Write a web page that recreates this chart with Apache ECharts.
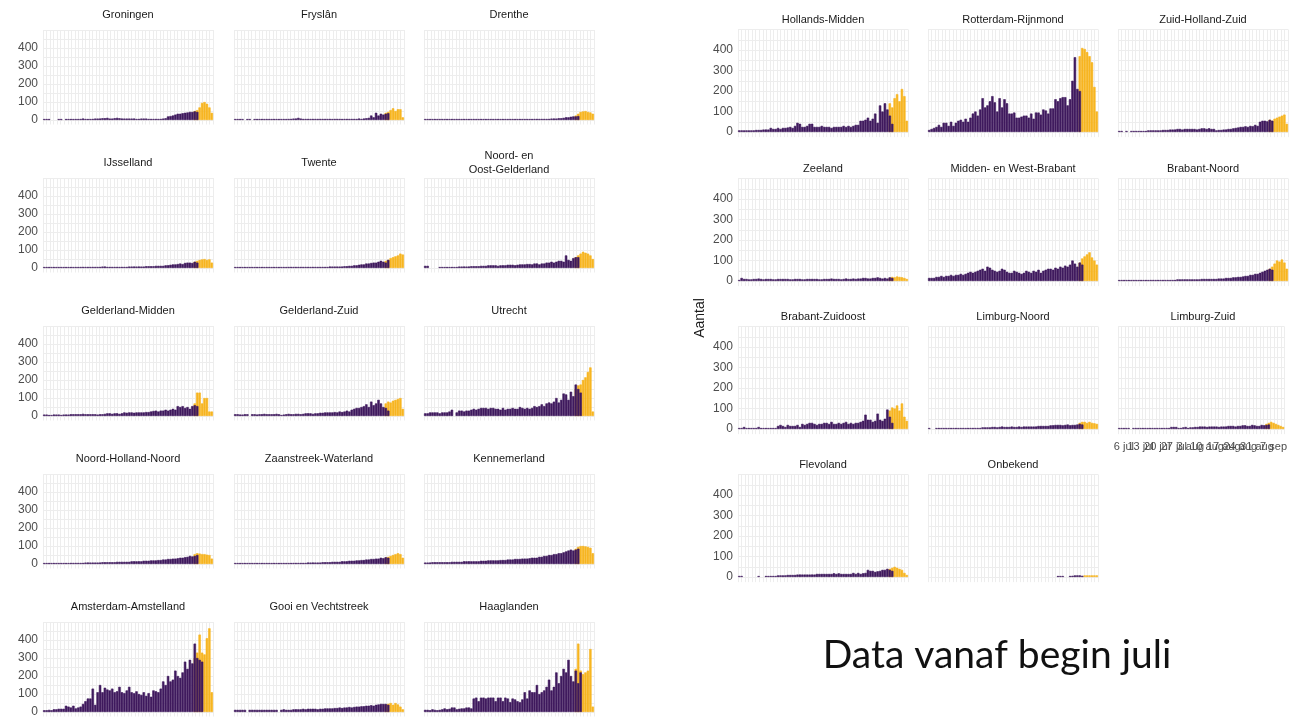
<!DOCTYPE html>
<html><head><meta charset="utf-8">
<script src="https://cdn.jsdelivr.net/npm/echarts@6/dist/echarts.min.js"></script>
<style>html,body{margin:0;padding:0;background:#fff}#c{width:1290px;height:718px}</style>
</head><body><div id="c"></div>
<script>
// ---- data: purple = daily counts (index 0..65), yellow = recent days (index 62..69) ----
const N_DAYS = 70;
const YELLOW_START = 62;
const X_TICK_LABELS = ['6 jul','13 jul','20 jul','27 jul','3 aug','10 aug','17 aug','24 aug','31 aug','7 sep'];
const X_TICK_FIRST = 2, X_TICK_STEP = 7;

const P_GRONINGEN = [3,3,3,0,0,0,3,3,0,4, 4,4,5,5,5,6,8,6,5,5, 6,8,8,8,10,10,12,8,8,10, 12,10,8,8,8,8,8,8,6,6, 8,8,8,6,6,6,6,6,6,8, 10,20,22,25,30,35,35,38,40,42, 45,45,48,45,0,0];
const Y_GRONINGEN = [50,55,70,95,100,90,70,40];
const P_FRYSLAN = [3,3,3,3,0,3,3,0,3,3, 3,3,3,4,4,3,3,4,4,4, 5,5,6,6,8,8,12,8,6,6, 6,6,6,6,6,6,6,6,6,6, 3,6,6,6,4,6,6,6,6,6, 6,8,6,8,10,12,25,15,40,25, 35,30,35,38,0,0];
const Y_FRYSLAN = [40,45,55,65,50,60,60,15];
const P_DRENTHE = [2,2,2,2,2,2,2,2,2,2, 2,2,2,3,3,3,3,3,3,3, 3,3,3,3,4,4,4,4,4,4, 4,4,4,4,4,4,4,4,5,5, 5,5,5,5,5,6,6,6,6,6, 6,6,8,8,8,10,10,12,15,15, 18,20,20,22,0,0];
const Y_DRENTHE = [25,35,45,48,50,45,42,35];
const P_IJSSELLAND = [5,5,5,5,5,5,5,5,5,5, 5,5,5,5,5,6,6,6,6,6, 6,6,6,6,8,8,6,6,6,6, 6,6,6,6,6,8,8,8,8,8, 8,8,10,10,10,10,12,12,12,12, 15,15,18,20,20,22,25,22,28,30, 30,28,35,30,0,0];
const Y_IJSSELLAND = [35,40,45,48,50,45,48,30];
const P_TWENTE = [5,5,5,5,5,5,5,5,5,5, 5,5,5,5,5,5,5,5,5,5, 5,5,6,6,6,6,6,6,6,6, 6,6,6,6,6,6,6,6,6,8, 8,8,8,8,8,10,10,12,12,15, 15,18,20,20,25,25,28,30,30,35, 40,35,30,45,0,0];
const Y_TWENTE = [40,45,55,60,65,70,80,75];
const P_NOG = [12,12,0,0,0,0,5,5,5,5, 5,5,5,5,8,8,8,8,8,10, 10,10,10,12,12,12,15,15,15,15, 12,15,15,15,18,18,18,15,18,20, 20,20,22,22,20,25,25,20,25,25, 30,30,35,30,35,40,40,35,70,45, 40,55,60,60,0,0];
const Y_NOG = [60,70,80,90,85,80,70,50];
const P_GMIDDEN = [8,8,5,5,8,8,8,5,8,8, 8,10,10,10,10,10,12,10,10,10, 10,10,8,10,10,12,15,15,12,15, 15,12,15,20,18,20,20,18,20,20, 20,20,22,22,25,28,30,25,30,30, 35,30,35,40,35,55,50,55,45,50, 40,55,60,55,0,0];
const Y_GMIDDEN = [70,130,130,70,100,100,25,25];
const P_GZUID = [10,10,8,8,10,10,0,10,10,8, 10,10,12,10,10,10,10,12,10,5, 8,10,12,10,10,12,12,10,12,15, 15,15,12,15,15,18,18,20,20,20, 20,22,20,25,22,25,30,25,35,40, 45,45,50,55,65,50,80,60,70,90, 70,50,45,30,0,0];
const Y_GZUID = [70,80,75,85,90,95,100,40];
const P_UTRECHT = [15,15,20,20,20,20,15,20,20,20, 25,35,0,20,30,30,25,30,30,35, 40,35,40,45,45,45,40,45,45,40, 40,35,45,35,40,40,45,40,40,50, 45,40,45,40,45,55,50,55,65,55, 70,75,70,80,100,75,90,125,120,90, 135,110,175,150,130,0];
const Y_UTRECHT = [150,170,175,200,215,245,270,25];
const P_NHN = [5,5,5,5,5,5,5,5,5,5, 5,6,6,6,6,6,6,8,8,8, 8,8,8,8,10,10,10,10,10,10, 12,12,12,12,12,12,15,15,15,15, 15,18,18,18,20,20,20,22,22,25, 25,28,28,30,30,32,35,35,38,40, 45,42,45,50,0,0];
const Y_NHN = [55,60,58,55,55,52,50,30];
const P_ZAANSTREEK = [3,3,3,3,3,3,3,3,3,3, 3,3,3,3,3,5,5,5,5,5, 5,5,5,5,6,6,6,6,6,6, 8,8,8,8,8,8,10,10,10,10, 12,12,12,12,15,15,15,18,18,18, 20,20,22,22,25,25,28,28,30,30, 35,32,38,35,0,0];
const Y_ZAANSTREEK = [35,40,45,50,55,60,55,35];
const P_KENNEMERLAND = [8,8,8,10,10,10,10,10,10,10, 10,12,12,12,12,12,15,15,15,15, 15,15,15,18,18,18,20,20,20,20, 20,22,22,22,25,25,25,28,28,28, 30,30,30,32,35,35,35,40,40,45, 45,50,50,55,55,60,60,65,70,75, 80,75,80,85,0,0];
const Y_KENNEMERLAND = [85,95,100,100,98,95,90,60];
const P_AMSTERDAM = [10,10,12,10,15,15,18,18,18,35, 30,25,35,20,25,30,45,60,75,75, 130,40,110,150,110,135,125,120,130,110, 115,140,110,105,120,140,110,105,115,100, 95,110,90,105,85,120,115,110,130,170, 150,200,170,180,230,200,190,220,280,240, 290,270,380,300,290,280];
const Y_AMSTERDAM = [300,330,430,330,320,410,465,110];
const P_GOOI = [12,12,12,12,12,0,12,12,12,12, 12,12,12,12,12,12,12,12,0,12, 15,12,12,12,15,15,15,15,18,15, 18,18,18,18,15,18,18,20,20,20, 20,22,22,25,22,25,25,28,25,28, 30,30,32,32,35,35,38,35,40,42, 45,45,45,40,0,0];
const Y_GOOI = [40,45,50,40,50,42,30,15];
const P_HAAGLANDEN = [12,12,10,15,12,10,12,15,20,15, 18,25,25,15,18,20,20,25,25,20, 75,80,60,80,80,75,80,80,80,60, 80,80,60,80,75,55,75,70,60,55, 70,110,75,120,110,110,150,100,110,120, 140,180,120,140,220,160,200,240,220,290, 200,170,230,160,220,0];
const Y_HAAGLANDEN = [240,380,230,210,220,230,350,30];
const P_HMIDDEN = [8,8,8,8,8,8,8,10,10,10, 12,12,12,20,15,15,20,15,20,20, 22,25,20,30,45,40,25,25,30,40, 40,25,25,25,30,25,25,25,20,25, 25,25,25,30,25,30,25,30,35,35, 55,55,60,70,55,65,90,45,130,100, 140,110,80,40,0,0];
const Y_HMIDDEN = [140,120,165,185,150,210,175,55];
const P_ROTTERDAM = [10,15,20,25,35,25,45,45,30,50, 30,45,55,60,50,65,50,70,90,100, 80,110,165,120,130,150,175,145,100,165, 120,160,140,90,90,95,70,70,75,80, 80,70,90,65,95,95,85,110,105,90, 115,115,160,150,165,170,170,130,160,250, 365,210,200,0,0,0];
const Y_ROTTERDAM = [370,410,405,390,370,340,220,100];
const P_ZHZ = [5,5,0,5,0,5,5,5,5,5, 5,5,8,8,8,8,8,8,10,10, 10,12,12,12,15,15,12,15,15,15, 15,15,12,15,18,18,15,18,15,15, 8,10,10,12,12,15,15,18,20,22, 25,25,28,25,30,28,35,30,50,55, 55,52,60,55,0,0];
const Y_ZHZ = [60,55,65,70,75,80,85,40];
const P_ZEELAND = [5,15,10,10,8,8,10,10,12,10, 8,10,10,10,8,8,10,10,10,10, 10,8,8,10,10,10,8,8,10,10, 10,10,10,8,8,10,10,10,12,10, 10,10,8,10,12,10,10,12,10,12, 12,15,15,12,12,15,15,18,15,12, 15,12,18,15,0,0];
const Y_ZEELAND = [15,20,18,22,20,18,15,10];
const P_MWB = [15,15,15,20,20,25,20,25,25,30, 25,30,30,35,30,35,40,45,40,45, 50,55,60,50,70,65,55,50,45,50, 60,55,45,40,40,50,45,40,35,40, 50,45,40,50,45,55,40,50,55,60, 60,55,65,60,70,65,75,70,80,100, 85,70,90,80,0,0];
const Y_MWB = [90,110,120,130,140,115,100,80];
const P_BNOORD = [3,3,3,3,3,3,3,3,3,3, 3,3,3,5,5,5,5,5,5,5, 5,5,5,5,8,8,8,8,8,8, 8,8,8,8,10,10,10,10,10,10, 10,12,12,12,15,15,15,18,18,20, 20,22,25,25,30,30,35,35,40,45, 50,55,60,55,0,0];
const Y_BNOORD = [60,70,85,100,95,105,90,60];
const P_BZO = [3,3,10,3,3,3,3,3,10,3, 3,3,3,3,3,3,15,20,15,10, 20,15,15,15,20,10,25,20,25,30, 30,25,20,25,25,30,30,25,35,25, 25,30,25,30,35,25,30,25,30,30, 35,40,70,45,45,35,40,75,45,40, 50,95,60,30,0,0];
const Y_BZO = [90,105,100,115,90,125,60,40];
const P_LNOORD = [3,0,0,3,3,3,3,3,3,3, 3,3,3,3,3,3,3,5,5,5, 5,5,8,8,8,8,10,10,8,10, 12,10,10,10,12,10,10,12,10,12, 12,12,12,12,12,15,15,15,15,15, 18,18,20,20,20,18,20,22,18,20, 20,22,25,22,0,0];
const Y_LNOORD = [30,35,35,30,35,30,28,25];
const P_LZUID = [3,3,3,3,3,0,3,3,3,3, 3,3,3,3,3,3,3,3,3,3, 5,5,10,10,10,5,5,8,10,5, 8,8,10,10,12,12,12,10,12,12, 12,12,10,12,12,12,15,15,15,12, 15,15,18,18,15,15,20,18,15,15, 20,18,20,22,0,0];
const Y_LZUID = [25,30,35,30,25,20,15,10];
const P_FLEVOLAND = [5,5,0,0,0,0,0,0,3,0, 0,5,5,5,5,5,8,8,8,8, 10,10,10,10,12,12,12,12,12,12, 12,12,15,15,15,15,15,15,15,18, 15,18,15,15,15,15,15,20,15,20, 15,18,20,35,30,30,25,28,30,35, 35,40,35,30,0,0];
const Y_FLEVOLAND = [40,45,50,45,40,35,20,10];
const P_ONBEKEND = [0,0,0,0,0,0,0,0,0,0, 0,0,0,0,0,0,0,0,0,0, 0,0,0,0,0,0,0,0,0,0, 0,0,0,0,0,0,0,0,0,0, 0,0,0,0,0,0,0,0,0,0, 0,0,0,4,4,4,0,0,5,6, 8,8,8,6,0,0];
const Y_ONBEKEND = [0,0,8,8,8,8,8,8];

// ---- panels (name, data) and layout ----
const LEFT_PANELS = [
  ['Groningen', P_GRONINGEN, Y_GRONINGEN], ['Fryslân', P_FRYSLAN, Y_FRYSLAN], ['Drenthe', P_DRENTHE, Y_DRENTHE],
  ['IJsselland', P_IJSSELLAND, Y_IJSSELLAND], ['Twente', P_TWENTE, Y_TWENTE], ['Noord- en\nOost-Gelderland', P_NOG, Y_NOG],
  ['Gelderland-Midden', P_GMIDDEN, Y_GMIDDEN], ['Gelderland-Zuid', P_GZUID, Y_GZUID], ['Utrecht', P_UTRECHT, Y_UTRECHT],
  ['Noord-Holland-Noord', P_NHN, Y_NHN], ['Zaanstreek-Waterland', P_ZAANSTREEK, Y_ZAANSTREEK], ['Kennemerland', P_KENNEMERLAND, Y_KENNEMERLAND],
  ['Amsterdam-Amstelland', P_AMSTERDAM, Y_AMSTERDAM], ['Gooi en Vechtstreek', P_GOOI, Y_GOOI], ['Haaglanden', P_HAAGLANDEN, Y_HAAGLANDEN]
];
const RIGHT_PANELS = [
  ['Hollands-Midden', P_HMIDDEN, Y_HMIDDEN], ['Rotterdam-Rijnmond', P_ROTTERDAM, Y_ROTTERDAM], ['Zuid-Holland-Zuid', P_ZHZ, Y_ZHZ],
  ['Zeeland', P_ZEELAND, Y_ZEELAND], ['Midden- en West-Brabant', P_MWB, Y_MWB], ['Brabant-Noord', P_BNOORD, Y_BNOORD],
  ['Brabant-Zuidoost', P_BZO, Y_BZO], ['Limburg-Noord', P_LNOORD, Y_LNOORD], ['Limburg-Zuid', P_LZUID, Y_LZUID],
  ['Flevoland', P_FLEVOLAND, Y_FLEVOLAND], ['Onbekend', P_ONBEKEND, Y_ONBEKEND]
];
const X_LABEL_PANEL = 'Limburg-Zuid';

const PURPLE = '#3f1a5e', YELLOW = '#f7b521';
const GRIDC = '#ededed';
const FONT = 'Liberation Sans, Arial, sans-serif';
const BLOCKS = [
  {panels: LEFT_PANELS, lefts: [43, 234, 424], zeros: [120, 268, 416, 564, 712], scale: 0.18, titleOff: 105},
  {panels: RIGHT_PANELS, lefts: [738, 928, 1118], zeros: [132, 281, 429, 577], scale: 0.205, titleOff: 112}
];
const PW = 170, YMIN = -25, YMAX = 500;

const cats = [];
for (let i = 0; i < N_DAYS; i++) cats.push('d' + i);

const grids = [], xAxes = [], yAxes = [], series = [], graphics = [];
let g = 0;
BLOCKS.forEach(b => {
  b.panels.forEach((pn, k) => {
    const col = k % 3, row = Math.floor(k / 3);
    const left = b.lefts[col], zero = b.zeros[row], s = b.scale;
    const top = zero - YMAX * s, height = (YMAX - YMIN) * s;
    grids.push({left: left, top: top, width: PW, height: height, containLabel: false});
    const showX = pn[0] === X_LABEL_PANEL;
    xAxes.push({
      gridIndex: g, type: 'category', data: cats, boundaryGap: true, position: 'bottom',
      axisLine: {show: false}, axisTick: {show: false}, splitLine: {show: false},
      axisLabel: {show: showX, interval: 0, color: '#4d4d4d', fontSize: 11, fontFamily: FONT, margin: 7,
        formatter: (v, i) => ((i - X_TICK_FIRST) % X_TICK_STEP === 0 && i >= X_TICK_FIRST) ? (X_TICK_LABELS[(i - X_TICK_FIRST) / X_TICK_STEP] || '') : ''}
    });
    xAxes.push({
      gridIndex: g, type: 'value', min: 0, max: 48, interval: 1, position: 'top',
      axisLine: {show: false}, axisTick: {show: false}, axisLabel: {show: false},
      splitLine: {show: true, lineStyle: {color: GRIDC, width: 1}}
    });
    yAxes.push({
      gridIndex: g, type: 'value', min: YMIN, max: YMAX, interval: 25,
      axisLine: {show: false}, axisTick: {show: false},
      axisLabel: {show: col === 0, color: '#4d4d4d', fontSize: 12, fontFamily: FONT, margin: 5,
        formatter: v => (v >= 0 && v <= 400 && v % 100 === 0) ? String(v) : ''},
      splitLine: {show: true, lineStyle: {color: ['rgba(0,0,0,0)', GRIDC], width: 1}}
    });
    const pd = [], yd = [];
    for (let i = 0; i < N_DAYS; i++) {
      const pv = pn[1][i];
      pd.push(pv ? pv : null);
      const yv = i >= YELLOW_START ? pn[2][i - YELLOW_START] : null;
      yd.push(yv ? yv : null);
    }
    const common = {type: 'bar', xAxisIndex: 2 * g, yAxisIndex: g, barCategoryGap: '0%', barGap: '-100%',
      barMinHeight: 1, silent: true, animation: false};
    series.push(Object.assign({}, common, {data: yd, itemStyle: {color: YELLOW, borderColor: YELLOW, borderWidth: 0.6}}));
    series.push(Object.assign({}, common, {data: pd, itemStyle: {color: PURPLE, borderColor: PURPLE, borderWidth: 0.6}}));
    graphics.push({type: 'text', x: left + PW / 2, y: zero - b.titleOff,
      style: {text: pn[0], align: 'center', verticalAlign: 'middle', fill: '#1a1a1a', font: '11px ' + FONT, lineHeight: 14}});
    g++;
  });
});

graphics.push({type: 'text', x: 700, y: 318, rotation: Math.PI / 2,
  style: {text: 'Aantal', align: 'center', verticalAlign: 'middle', fill: '#1a1a1a', font: '14px ' + FONT}});
graphics.push({type: 'text', x: 997, y: 655,
  style: {text: 'Data vanaf begin juli', align: 'center', verticalAlign: 'middle', fill: '#111111', font: '39px Lato, "Open Sans", sans-serif'}});

const chart = echarts.init(document.getElementById('c'), null, {renderer: 'canvas'});
chart.setOption({
  backgroundColor: '#ffffff',
  animation: false,
  grid: grids, xAxis: xAxes, yAxis: yAxes, series: series, graphic: graphics
});
</script></body></html>
